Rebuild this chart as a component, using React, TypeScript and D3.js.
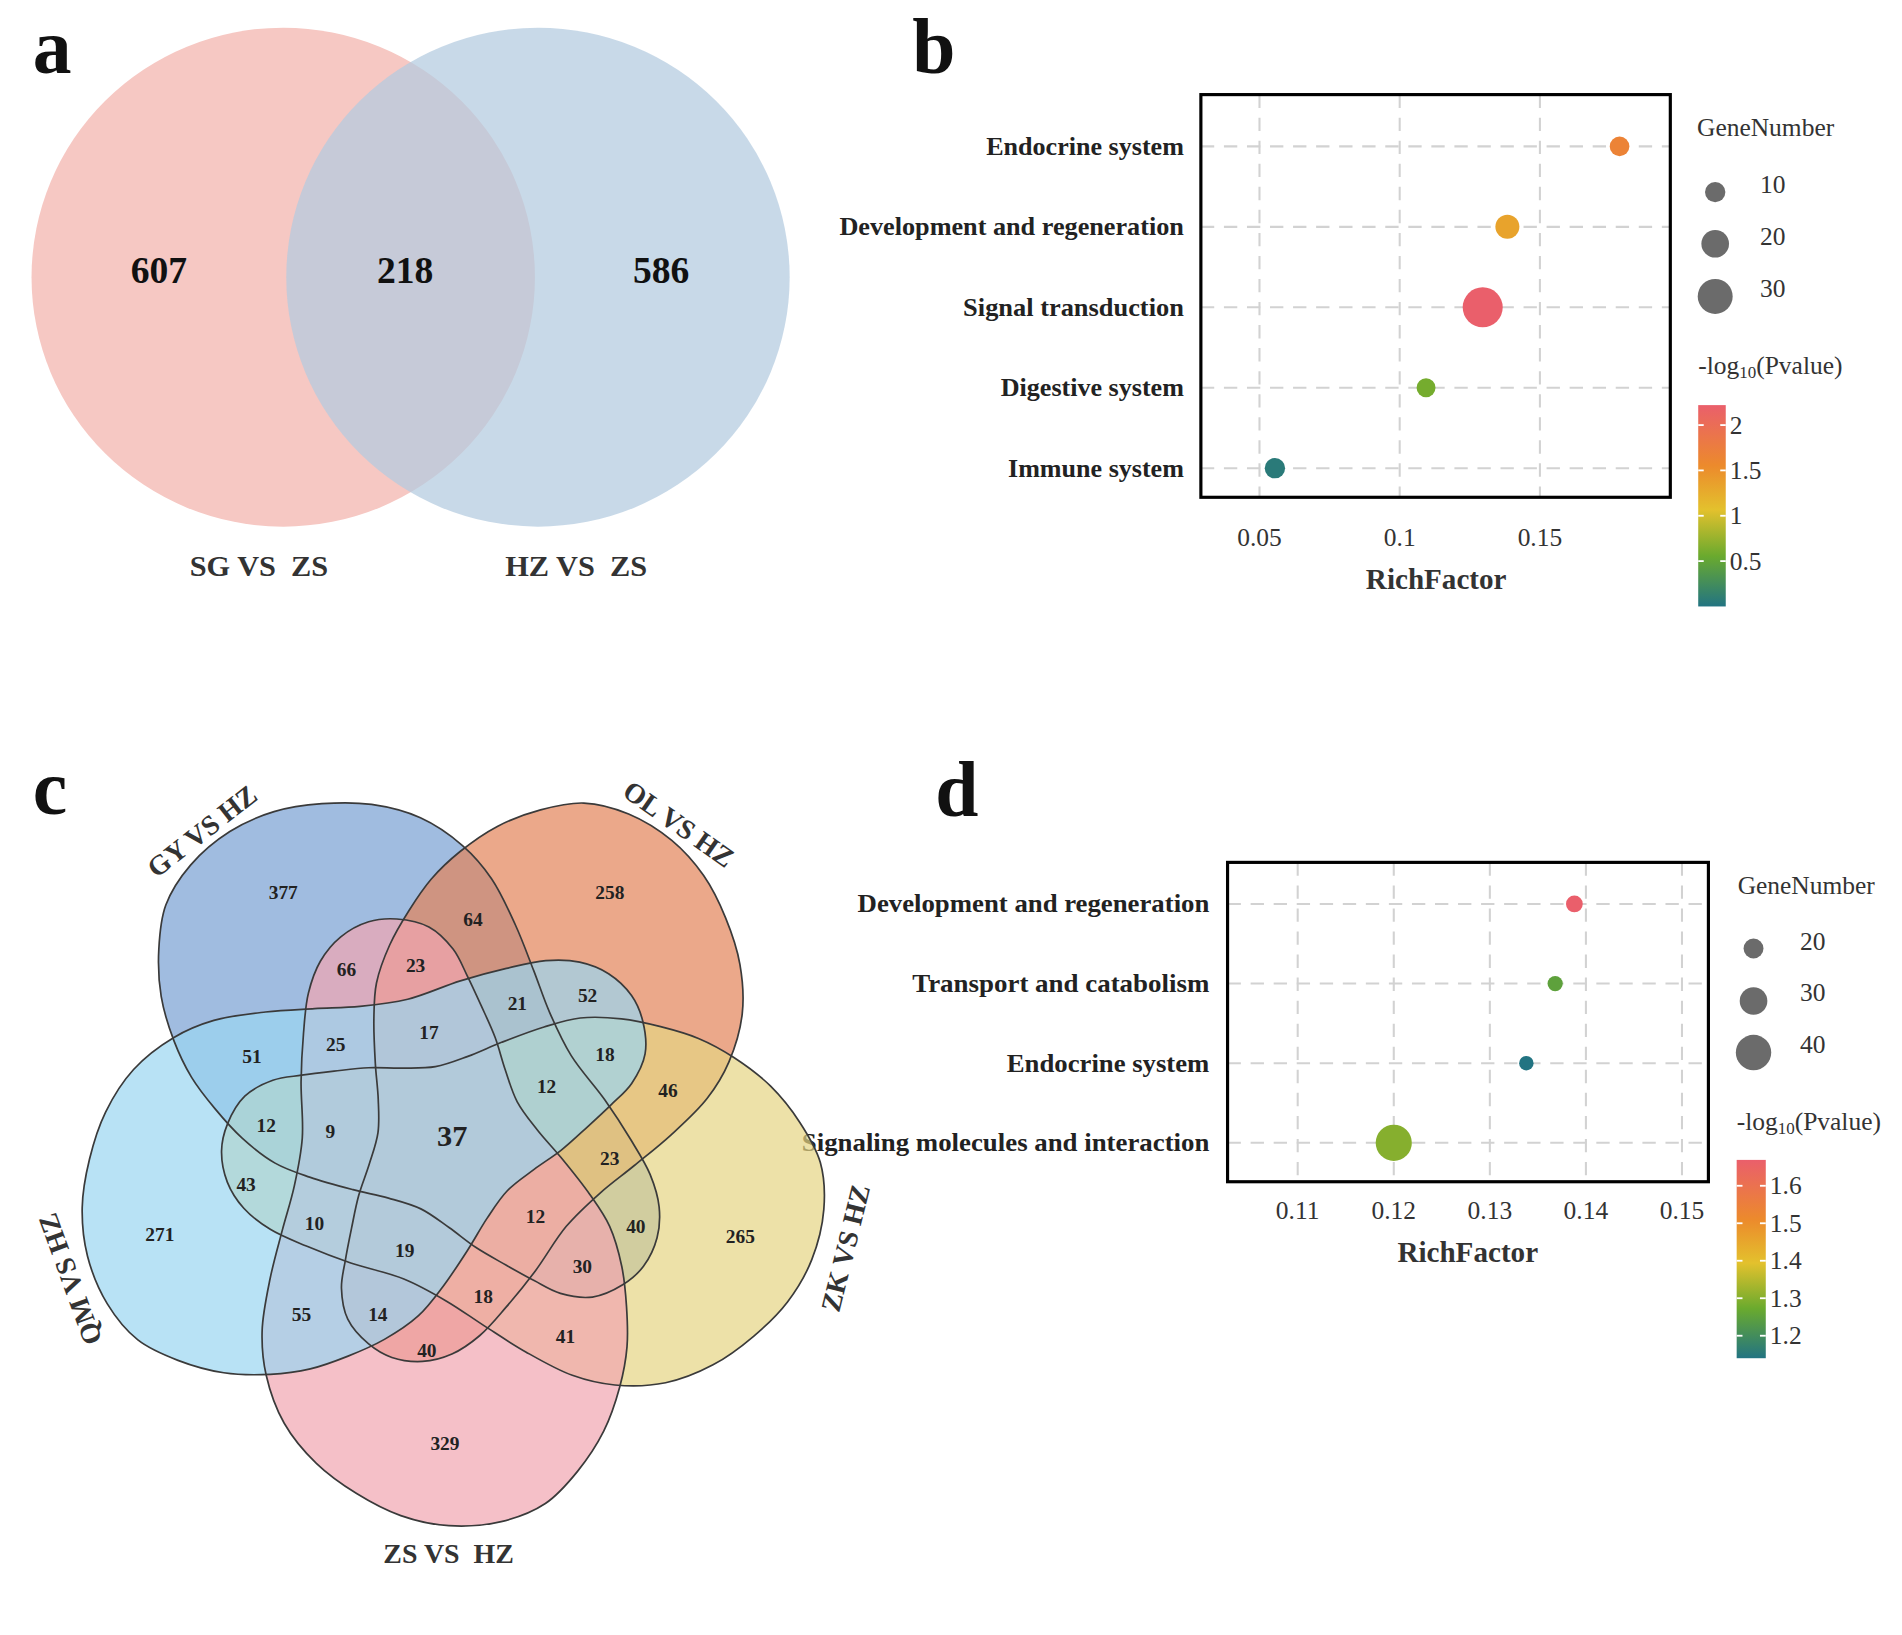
import React from 'react';
import * as d3 from 'd3';

const FONT = "'Liberation Serif', 'Times New Roman', serif";

// ---------------- panel a data ----------------
const aSetNames = ['SG VS  ZS', 'HZ VS  ZS'];
const aRegionCounts = [607, 218, 586];

// ---------------- panel b data ----------------
const bPathways = ['Endocrine system', 'Development and regeneration', 'Signal transduction', 'Digestive system', 'Immune system'];
const bRichFactor = [0.1784, 0.1384, 0.1296, 0.1094, 0.0555];
const bGeneNumber = [9, 15, 37, 8, 10];
const bLogP = [1.66, 1.33, 2.22, 0.6, 0.06];
const bXTicks = [0.05, 0.1, 0.15];
const bSizeBreaks = [10, 20, 30];
const bColorBreaks = [0.5, 1, 1.5, 2];
const bColorRange = [0, 2.22];

// ---------------- panel c data ----------------
const cSetNames = ['ZS VS  HZ', 'ZK VS HZ', 'OL VS HZ', 'GY VS HZ', 'QM VS HZ'];
const cRegionCounts = [377, 258, 64, 66, 23, 21, 52, 51, 25, 17, 18, 12, 46, 12, 9, 37, 23, 43, 10, 271, 12, 40, 265, 19, 30, 18, 55, 14, 41, 40, 329];

// ---------------- panel d data ----------------
const dPathways = ['Development and regeneration', 'Transport and catabolism', 'Endocrine system', 'Signaling molecules and interaction'];
const dRichFactor = [0.1388, 0.1368, 0.1338, 0.12];
const dGeneNumber = [16, 14, 13, 41];
const dLogP = [1.669, 1.25, 1.14, 1.3];
const dXTicks = [0.11, 0.12, 0.13, 0.14, 0.15];
const dSizeBreaks = [20, 30, 40];
const dColorBreaks = [1.2, 1.3, 1.4, 1.5, 1.6];
const dColorRange = [1.14, 1.669];

// ---------------- layout / style ----------------
const paletteStops = [0, 0.25, 0.48, 0.7, 1];
const paletteColors = ['#227482', '#6aaa2e', '#e3c12d', '#ec8a2c', '#ea5f6b'];
const palette = d3.scaleLinear<string>().domain(paletteStops).range(paletteColors).interpolate(d3.interpolateRgb).clamp(true);

const bLayout = {
  box: [990, 78, 1377, 410], xDomain: [0.0291, 0.1965], yRange: [120.7, 386],
  labelRight: 976, labelWidths: [163, 284, 182, 151, 145], tickY: 443, titleX: 1184, titleY: 477,
  sizeDomain: [10, 30], sizeRange: [8.4, 14.4],
  legTitleX: 1399, legTitleY: 105, legCircleX: 1414, legCircleYs: [158.4, 201, 244.4], legLabelX: 1451, legLabelYs: [152, 195, 238],
  barX: 1400, barW: 22.7, barY0: 334, barY1: 500, barTitleY: 301, barLabelX: 1426,
};
const dLayout = {
  box: [1012, 711, 1408.4, 974.3], xDomain: [0.1027, 0.15275], yRange: [745.3, 942.2],
  labelRight: 997, labelWidths: [290, 245, 167, 336], tickY: 998.4, titleX: 1210, titleY: 1032.5,
  sizeDomain: [20, 40], sizeRange: [8.2, 14.6],
  legTitleX: 1432.5, legTitleY: 730, legCircleX: 1445.6, legCircleYs: [782, 825.3, 867.8], legLabelX: 1484, legLabelYs: [776, 818.5, 861],
  barX: 1431.7, barW: 24, barY0: 956.3, barY1: 1119.8, barTitleY: 924, barLabelX: 1459,
};

function DotPlot({ id, cats, rf, gn, lp, xTicks, sizeBreaks, colorBreaks, colorRange, L }: any) {
  const [x0, y0, x1, y1] = L.box;
  const x = d3.scaleLinear().domain(L.xDomain).range([x0, x1]);
  const y = d3.scalePoint<string>().domain(cats).range(L.yRange);
  const r = d3.scaleLinear().domain(L.sizeDomain).range(L.sizeRange);
  const t = (v: number) => (v - colorRange[0]) / (colorRange[1] - colorRange[0]);
  const cy = d3.scaleLinear().domain(colorRange).range([L.barY1, L.barY0]);
  const grid = { stroke: '#d2d2d2', strokeWidth: 1.7, strokeDasharray: '11 8' };
  return (
    <g>
      <defs>
        <linearGradient id={id} x1="0" y1="1" x2="0" y2="0">
          {paletteStops.map((s, i) => <stop key={i} offset={s} stopColor={paletteColors[i]} />)}
        </linearGradient>
      </defs>
      {xTicks.map((v: number) => <line key={'v' + v} x1={x(v)} x2={x(v)} y1={y0} y2={y1} {...grid} />)}
      {cats.map((c: string) => <line key={'h' + c} x1={x0} x2={x1} y1={y(c)} y2={y(c)} {...grid} />)}
      {cats.map((c: string, i: number) => (
        <circle key={'p' + c} cx={x(rf[i])} cy={y(c)} r={r(gn[i])} fill={palette(t(lp[i]))} />
      ))}
      <rect x={x0} y={y0} width={x1 - x0} height={y1 - y0} fill="none" stroke="#000" strokeWidth={2.6} />
      {cats.map((c: string, i: number) => (
        <text key={'l' + c} x={L.labelRight} y={y(c)} textAnchor="end" dominantBaseline="central" fontSize={21} fontWeight="bold" fill="#222"
          textLength={L.labelWidths[i]} lengthAdjust="spacingAndGlyphs">{c}</text>
      ))}
      {xTicks.map((v: number) => (
        <text key={'t' + v} x={x(v)} y={L.tickY} textAnchor="middle" dominantBaseline="central" fontSize={21} fill="#333">{String(v)}</text>
      ))}
      <text x={L.titleX} y={L.titleY} textAnchor="middle" dominantBaseline="central" fontSize={24} fontWeight="bold" fill="#333">RichFactor</text>
      {/* size legend */}
      <text x={L.legTitleX} y={L.legTitleY} dominantBaseline="central" fontSize={21} fill="#333">GeneNumber</text>
      {sizeBreaks.map((s: number, i: number) => (
        <g key={'s' + s}>
          <circle cx={L.legCircleX} cy={L.legCircleYs[i]} r={r(s)} fill="#6b6b6b" />
          <text x={L.legLabelX} y={L.legLabelYs[i]} dominantBaseline="central" fontSize={21} fill="#333">{String(s)}</text>
        </g>
      ))}
      {/* colour legend */}
      <text x={L.barX} y={L.barTitleY} dominantBaseline="central" fontSize={21} fill="#333">
        <tspan>-log</tspan><tspan fontSize={14} dy={6}>10</tspan><tspan dy={-6}>(Pvalue)</tspan>
      </text>
      <rect x={L.barX} y={L.barY0} width={L.barW} height={L.barY1 - L.barY0} fill={`url(#${id})`} />
      {colorBreaks.map((v: number) => (
        <g key={'c' + v}>
          <line x1={L.barX} x2={L.barX + L.barW * 0.2} y1={cy(v)} y2={cy(v)} stroke="#fff" strokeWidth={1.5} />
          <line x1={L.barX + L.barW * 0.8} x2={L.barX + L.barW} y1={cy(v)} y2={cy(v)} stroke="#fff" strokeWidth={1.5} />
          <text x={L.barLabelX} y={cy(v)} dominantBaseline="central" fontSize={21} fill="#333">{String(v)}</text>
        </g>
      ))}
    </g>
  );
}

function PanelA() {
  const ell = [
    { cx: 233.5, cy: 228.5, fill: 'rgb(246,200,195)', op: 1 },
    { cx: 443.5, cy: 228.5, fill: 'rgb(180,203,223)', op: 0.73 },
  ];
  const numX = [131, 334, 545];
  const labX = [213.5, 475];
  return (
    <g>
      {ell.map((e, i) => <ellipse key={i} cx={e.cx} cy={e.cy} rx={207.5} ry={205.7} fill={e.fill} fillOpacity={e.op} />)}
      {aRegionCounts.map((n, i) => (
        <text key={i} x={numX[i]} y={223} textAnchor="middle" dominantBaseline="central" fontSize={31} fontWeight="bold" fill="#111">{n}</text>
      ))}
      {aSetNames.map((s, i) => (
        <text key={s} x={labX[i]} y={467} textAnchor="middle" dominantBaseline="central" fontSize={25} fontWeight="bold" fill="#333" style={{ whiteSpace: 'pre' }}>{s}</text>
      ))}
    </g>
  );
}

// outline template of one 5-set Venn shape (the ZS set), in picture units
const CENTER = [372, 940];
const template: [number, number][] = [
  [327.1, 757.7], [353.6, 764.3], [373.5, 782.5], [385.0, 804.1], [396.6, 828.9], [408.2, 855.4], [416.5, 881.9], [426.4, 908.4],
  [443.0, 931.6], [462.9, 954.8], [486.1, 984.6], [502.6, 1011.1], [512.6, 1044.2], [516.5, 1077.3], [516.9, 1110.5], [510.9, 1143.6],
  [497.7, 1180.0], [476.1, 1213.1], [449.6, 1239.6], [413.2, 1254.5], [370.1, 1257.9], [330.4, 1249.6], [294.0, 1231.4], [260.8, 1206.5],
  [234.3, 1173.4], [219.4, 1133.6], [216.1, 1097.2], [222.7, 1054.1], [232.7, 1014.4], [242.6, 977.9], [249.2, 938.2], [248.2, 891.8],
  [250.2, 852.1], [254.2, 819.0], [264.1, 792.5], [280.7, 772.6], [303.9, 760.0],
];
const cShapeScale = [1, 0.985, 0.965, 0.985, 0.99];
const cColors = ['rgb(241,165,176)', 'rgb(229,212,131)', 'rgb(226,131,88)', 'rgb(119,159,211)', 'rgb(154,214,241)'];
const cDrawOrder = [3, 2, 1, 0, 4];
const cLabelPos: [number, number][] = [
  [233.5, 735.7], [502.8, 735.7], [390, 757.7], [285.7, 799], [342.6, 795.8], [426.5, 827.3], [484.4, 820.6], [207.8, 871.3],
  [276.7, 861], [353.6, 851.4], [498.7, 869.3], [450.6, 895.8], [550.7, 899.1], [219.4, 927.6], [272.4, 933.2], [372.8, 936.6],
  [502.6, 954.8], [202.9, 976.3], [259.2, 1008.4], [131.8, 1018], [441.4, 1002.8], [524.2, 1011.1], [610.3, 1019.4], [333.7, 1031],
  [480.1, 1044.2], [398.3, 1069.1], [248.6, 1084], [311.5, 1084], [466.2, 1102.2], [351.9, 1113.8], [366.8, 1190],
];
const cSetLabelPos = [
  { x: 369.8, y: 1281, a: 0 }, { x: 697, y: 1029, a: -76 }, { x: 559.6, y: 679.4, a: 35 },
  { x: 166.5, y: 685.2, a: -38 }, { x: 57.7, y: 1054.6, a: -110 },
];

function PanelC() {
  const line = d3.line().curve(d3.curveCatmullRomClosed.alpha(0.5));
  const shapes = cSetNames.map((_, k) => {
    const th = (-72 * k * Math.PI) / 180;
    const s = cShapeScale[k];
    const pts = template.map(([px, py]) => {
      const dx = px - CENTER[0], dy = py - CENTER[1];
      return [CENTER[0] + s * (dx * Math.cos(th) - dy * Math.sin(th)), CENTER[1] + s * (dx * Math.sin(th) + dy * Math.cos(th))] as [number, number];
    });
    return line(pts) as string;
  });
  return (
    <g>
      {cDrawOrder.map((k) => <path key={'f' + k} d={shapes[k]} fill={cColors[k]} fillOpacity={0.7} />)}
      {cDrawOrder.map((k) => <path key={'s' + k} d={shapes[k]} fill="none" stroke="#3a3a3a" strokeWidth={1.4} />)}
      {cRegionCounts.map((n, i) => (
        <text key={i} x={cLabelPos[i][0]} y={cLabelPos[i][1]} textAnchor="middle" dominantBaseline="central"
          fontSize={i === 15 ? 25 : 16} fontWeight="bold" fill="#222">{n}</text>
      ))}
      {cSetNames.map((s, k) => (
        <text key={s} transform={`translate(${cSetLabelPos[k].x},${cSetLabelPos[k].y}) rotate(${cSetLabelPos[k].a})`}
          textAnchor="middle" dominantBaseline="central" fontSize={23} fontWeight="bold" fill="#333" style={{ whiteSpace: 'pre' }}>{s}</text>
      ))}
    </g>
  );
}

export default function App() {
  const letters = [
    { t: 'a', x: 27, y: 60 }, { t: 'b', x: 752, y: 60 }, { t: 'c', x: 27, y: 671 }, { t: 'd', x: 771, y: 673 },
  ];
  return (
    <svg width={1902} height={1635} viewBox="0 0 1568 1348" preserveAspectRatio="none"
      style={{ position: 'absolute', left: 0, top: 0, background: '#fff' }} fontFamily={FONT}>
      <PanelA />
      <DotPlot id="gradB" cats={bPathways} rf={bRichFactor} gn={bGeneNumber} lp={bLogP} xTicks={bXTicks}
        sizeBreaks={bSizeBreaks} colorBreaks={bColorBreaks} colorRange={bColorRange} L={bLayout} />
      <DotPlot id="gradD" cats={dPathways} rf={dRichFactor} gn={dGeneNumber} lp={dLogP} xTicks={dXTicks}
        sizeBreaks={dSizeBreaks} colorBreaks={dColorBreaks} colorRange={dColorRange} L={dLayout} />
      <PanelC />
      {letters.map((l) => (
        <text key={l.t} x={l.x} y={l.y} fontSize={64} fontWeight="bold" fill="#111">{l.t}</text>
      ))}
    </svg>
  );
}
